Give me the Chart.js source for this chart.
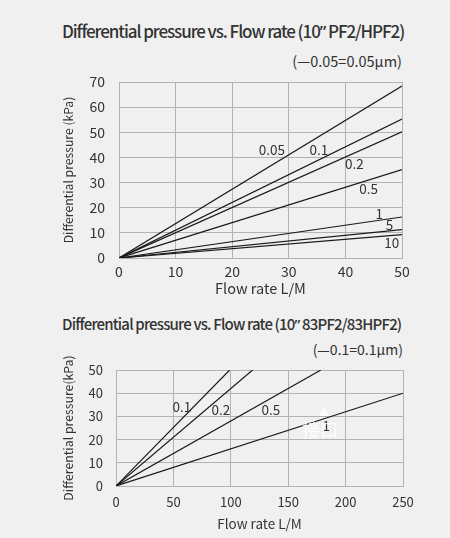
<!DOCTYPE html>
<html><head><meta charset="utf-8">
<script src="https://cdn.jsdelivr.net/npm/chart.js@4"></script>
<style>
html,body{margin:0;padding:0;background:#f0f0f0;}
body{width:450px;height:538px;position:relative;overflow:hidden;font-family:"Noto Sans CJK SC","Noto Sans",sans-serif;color:#333;}
.t{position:absolute;white-space:nowrap;line-height:1;}
.q{font-family:"Noto Sans",sans-serif;}
canvas{position:absolute;left:0;}
</style></head><body>
<div class="t fit" data-w="343" style="left:62px;top:22px;font-size:17px;font-weight:500;">Differential pressure vs. Flow rate (10<span class="q">”</span> PF2/HPF2)</div>
<div class="t" style="right:48px;top:54px;font-size:14.5px;">(—0.05=0.05μm)</div>
<div class="t fit" data-w="340" style="left:62px;top:316px;font-size:15px;font-weight:500;">Differential pressure vs. Flow rate (10<span class="q">”</span> 83PF2/83HPF2)</div>
<div class="t" style="right:47px;top:342px;font-size:14px;">(—0.1=0.1μm)</div>
<canvas id="c1" width="450" height="300" style="top:0"></canvas>
<canvas id="c2" width="450" height="238" style="top:300px"></canvas>
<script>
// ---- Chart 1 data: 10" PF2/HPF2 ----
const series1 = ['0.05', '0.1', '0.2', '0.5', '1', '5', '10'];
const flowEnd1 = [50, 50, 50, 50, 50, 50, 50];
const dpEnd1 = [68.4, 55.3, 50.2, 35.2, 16.3, 11.3, 9.3];
const labelX1 = [27.0, 35.3, 41.6, 44.1, 46.0, 47.8, 48.2];
const labelY1 = [43.2, 43.2, 37.3, 27.6, 17.7, 13.3, 6.0];
const xTicks1 = [0, 10, 20, 30, 40, 50];
const yTicks1 = [0, 10, 20, 30, 40, 50, 60, 70];

// ---- Chart 2 data: 10" 83PF2/83HPF2 ----
const series2 = ['0.1', '0.2', '0.5', '1'];
const flowEnd2 = [99, 119, 178.5, 250];
const dpEnd2 = [50, 50, 50, 40];
const labelX2 = [57.3, 91.3, 134.9, 183.1];
const labelY2 = [34.1, 33.0, 33.0, 25.8];
const xTicks2 = [0, 50, 100, 150, 200, 250];
const yTicks2 = [0, 10, 20, 30, 40, 50];

// fit title widths to the reference's extents
document.querySelectorAll('.fit').forEach(el => {
  const target = +el.dataset.w;
  const n = el.textContent.length - 1;
  const w = el.getBoundingClientRect().width;
  el.style.letterSpacing = ((target - w) / n).toFixed(3) + 'px';
});

const FONT = '"Noto Sans CJK SC","Noto Sans",sans-serif';
const GRID = '#b3b3b3';
const INK = '#333333';

const labelPlugin = {
  id: 'lineLabels',
  afterDatasetsDraw(chart, args, opts) {
    const {ctx, scales: {x, y}} = chart;
    ctx.save();
    ctx.font = opts.size + 'px ' + FONT;
    ctx.fillStyle = INK;
    ctx.textAlign = 'center';
    ctx.textBaseline = 'middle';
    opts.text.forEach((t, i) => {
      ctx.fillText(t, x.getPixelForValue(opts.xs[i]), y.getPixelForValue(opts.ys[i]));
    });
    if (opts.mark) {
      ctx.fillStyle = 'rgba(255,255,255,0.85)';
      ctx.font = '18px ' + FONT;
      ctx.fillText(opts.mark.text, x.getPixelForValue(opts.mark.x), y.getPixelForValue(opts.mark.y));
      ctx.font = '11px ' + FONT;
      ctx.fillText('▲', x.getPixelForValue(opts.mark.x + 3), y.getPixelForValue(opts.mark.y + 8));
    }
    ctx.restore();
  }
};

function makeChart(id, names, fx, fy, lx, ly, xt, yt, cfg) {
  const datasets = names.map((n, i) => ({
    label: n,
    data: [{x: 0, y: 0}, {x: fx[i], y: fy[i]}],
    borderColor: '#1a1a1a',
    borderWidth: 1.2,
    pointRadius: 0,
    showLine: true,
    fill: false
  }));
  return new Chart(document.getElementById(id), {
    type: 'scatter',
    data: {datasets},
    plugins: [labelPlugin],
    options: {
      responsive: false,
      animation: false,
      layout: {padding: {left: 0, right: cfg.right, top: cfg.top, bottom: 0}},
      plugins: {
        legend: {display: false},
        tooltip: {enabled: false},
        lineLabels: {text: names, xs: lx, ys: ly, size: cfg.lblSize, mark: cfg.mark}
      },
      scales: {
        x: {
          type: 'linear', min: xt[0], max: xt[xt.length - 1],
          afterBuildTicks: s => { s.ticks = xt.map(v => ({value: v})); },
          afterFit: s => { s.height = cfg.xh; },
          ticks: {color: INK, font: {family: FONT, size: cfg.tick}, padding: cfg.xpad},
          grid: {color: GRID, lineWidth: 1, drawTicks: false},
          border: {color: GRID},
          title: {display: true, text: 'Flow rate L/M', color: INK, font: {family: FONT, size: cfg.xtitle}, padding: {top: 0, bottom: cfg.xtpad}}
        },
        y: {
          type: 'linear', min: yt[0], max: yt[yt.length - 1],
          afterBuildTicks: s => { s.ticks = yt.map(v => ({value: v})); },
          afterFit: s => { s.width = cfg.yw; },
          ticks: {color: INK, font: {family: FONT, size: cfg.tick}, padding: cfg.ypad},
          grid: {color: GRID, lineWidth: 1, drawTicks: false},
          border: {color: GRID},
          title: {display: true, text: cfg.ytitle, color: INK, font: {family: FONT, size: cfg.ytitleSize}, padding: {top: cfg.ytpad, bottom: 0}}
        }
      }
    }
  });
}

makeChart('c1', series1, flowEnd1, dpEnd1, labelX1, labelY1, xTicks1, yTicks1, {
  right: 48, top: 82, xh: 42, yw: 119, tick: 14, xtitle: 14.5, ytitleSize: 12.2, lblSize: 13.5,
  xpad: 5, xtpad: 3, ypad: 14, ytpad: 61, ytitle: 'Differential pressure (kPa)'
});
makeChart('c2', series2, flowEnd2, dpEnd2, labelX2, labelY2, xTicks2, yTicks2, {
  right: 47, top: 70, xh: 52, yw: 116, tick: 13, xtitle: 13.5, ytitleSize: 12.3, lblSize: 13.5,
  xpad: 8, xtpad: 6, ypad: 13, ytpad: 61, ytitle: 'Differential pressure(kPa)',
  mark: {text: '接口', x: 178, y: 24}
});
</script>
</body></html>
